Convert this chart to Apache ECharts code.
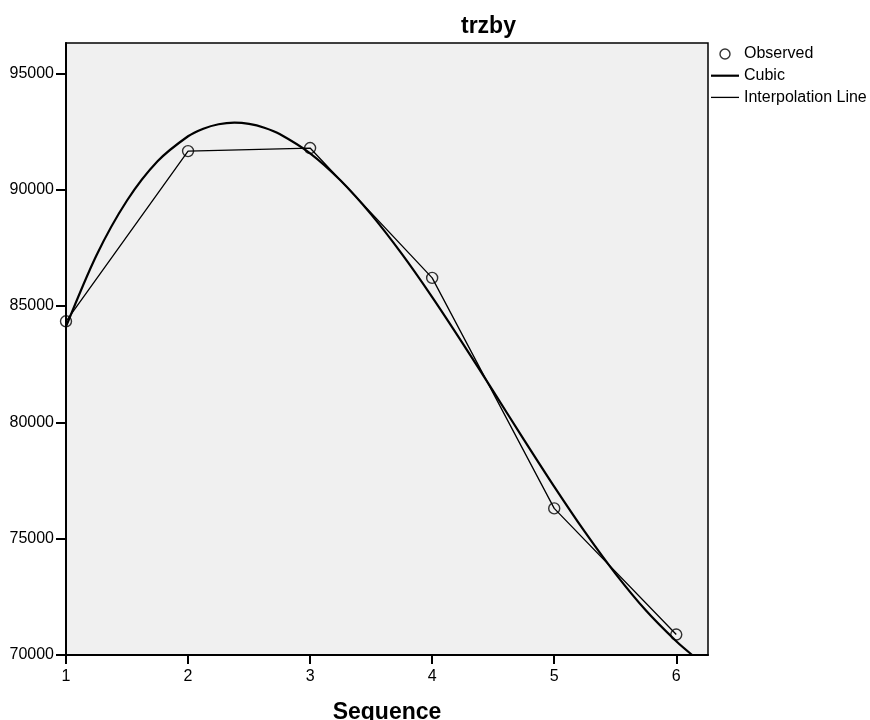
<!DOCTYPE html>
<html>
<head>
<meta charset="utf-8">
<title>trzby</title>
<script src="https://cdn.jsdelivr.net/npm/echarts@6/dist/echarts.min.js"></script>
<style>
  html, body { margin: 0; padding: 0; background: #fff; }
  #main { width: 870px; height: 720px; }
</style>
</head>
<body>
<div id="main"></div>
<script>
// observed values per sequence step
const seq = [1, 2, 3, 4, 5, 6];
const observed = [84340, 91655, 91785, 86205, 76300, 70880];

// cubic fit
const cubicX = [1, 1.25, 1.5, 1.75, 2, 2.125, 2.25, 2.38, 2.5, 2.625, 2.75, 3, 3.25, 3.5, 3.75, 4, 4.25, 4.5, 4.75, 5, 5.25, 5.5, 5.75, 6, 6.13];
const cubicY = [84108, 87180, 89531, 91217, 92292, 92617, 92809, 92876, 92823, 92659, 92388, 91559, 90390, 88935, 87247, 85383, 83395, 81338, 79267, 77235, 75297, 73507, 71919, 70588, 70000];

const xTicks = [1, 2, 3, 4, 5, 6];
const yTicks = [70000, 75000, 80000, 85000, 90000, 95000];

const font = '"Liberation Sans", Arial, sans-serif';

var chart = echarts.init(document.getElementById('main'));

chart.setOption({
  animation: false,
  backgroundColor: '#fff',
  textStyle: { fontFamily: font, color: '#000' },
  title: {
    text: 'trzby',
    left: 456,
    top: 10,
    textStyle: { fontFamily: font, fontSize: 23, fontWeight: 'bold', color: '#000' }
  },
  legend: {
    orient: 'vertical',
    left: 711,
    top: 46,
    padding: 0,
    itemWidth: 28,
    itemHeight: 10,
    itemGap: 5.7,
    textStyle: { fontFamily: font, fontSize: 16, color: '#000', lineHeight: 16 },
    data: [
      { name: 'Observed', icon: 'circle', itemStyle: { color: 'rgba(0,0,0,0)', borderColor: '#000', borderWidth: 1.4 } },
      { name: 'Cubic', icon: 'path://M0 0H28V2.2H0Z', itemStyle: { color: '#000' } },
      { name: 'Interpolation Line', icon: 'path://M0 0H28V1.3H0Z', itemStyle: { color: '#000' } }
    ]
  },
  grid: {
    left: 66, top: 43, width: 642, height: 612,
    outerBoundsMode: 'none',
    containLabel: false,
    show: true,
    backgroundColor: '#f0f0f0',
    borderColor: '#000',
    borderWidth: 1.5
  },
  xAxis: {
    type: 'value',
    min: 1, max: 6.26, interval: 1,
    name: 'Sequence',
    nameLocation: 'middle',
    nameGap: 46,
    nameTextStyle: { fontFamily: font, fontSize: 23, fontWeight: 'bold', color: '#000' },
    axisLine: { show: true, lineStyle: { color: '#000', width: 2 } },
    axisTick: { show: true, length: 9, customValues: xTicks, lineStyle: { color: '#000', width: 2 } },
    axisLabel: { customValues: xTicks, margin: 14, fontSize: 16, color: '#000', fontFamily: font },
    splitLine: { show: false }
  },
  yAxis: {
    type: 'value',
    min: 70000, max: 96300, interval: 5000,
    axisLine: { show: true, lineStyle: { color: '#000', width: 2 } },
    axisTick: { show: true, length: 10, customValues: yTicks, lineStyle: { color: '#000', width: 2 } },
    axisLabel: {
      customValues: yTicks, margin: 12, fontSize: 16, color: '#000', fontFamily: font,
      formatter: function (v) { return String(v); }
    },
    splitLine: { show: false }
  },
  series: [
    {
      name: 'Observed',
      type: 'scatter',
      symbol: 'circle',
      symbolSize: 11,
      z: 5,
      itemStyle: { color: 'rgba(0,0,0,0)', borderColor: '#000', borderWidth: 1.4 },
      data: seq.map((x, i) => [x, observed[i]])
    },
    {
      name: 'Cubic',
      type: 'line',
      symbol: 'none',
      smooth: 0.3,
      clip: true,
      lineStyle: { color: '#000', width: 2.2 },
      itemStyle: { color: '#000' },
      data: cubicX.map((x, i) => [x, cubicY[i]])
    },
    {
      name: 'Interpolation Line',
      type: 'line',
      symbol: 'none',
      lineStyle: { color: '#000', width: 1.3 },
      itemStyle: { color: '#000' },
      data: seq.map((x, i) => [x, observed[i]])
    }
  ]
});
</script>
</body>
</html>
